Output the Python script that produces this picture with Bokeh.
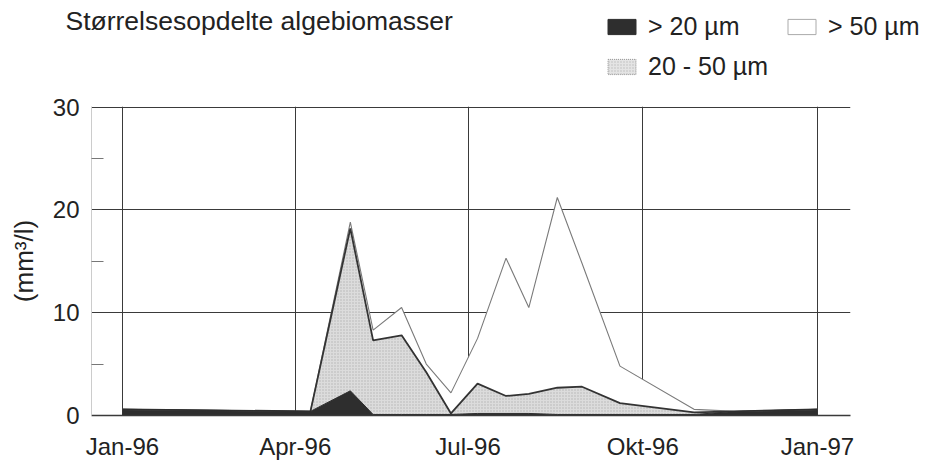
import pandas as pd
from bokeh.plotting import figure
from bokeh.models import (ColumnDataSource, FixedTicker, Range1d, Legend,
                          LegendItem, Label)
from bokeh.embed import file_html
from bokeh.resources import INLINE

# ---- data ----
dates = ["1996-01-01", "1996-04-09", "1996-04-30", "1996-05-12", "1996-05-27",
         "1996-06-09", "1996-06-22", "1996-07-06", "1996-07-21", "1996-08-02",
         "1996-08-17", "1996-08-30", "1996-09-19", "1996-10-28", "1996-11-19",
         "1997-01-01"]
gt20 = [0.6, 0.4, 2.4, 0.1, 0.1, 0.1, 0.1, 0.2, 0.2, 0.2, 0.1, 0.1, 0.1, 0.1, 0.4, 0.6]
mid2050 = [0.0, 0.0, 15.8, 7.2, 7.7, 4.1, 0.1, 2.9, 1.7, 1.9, 2.6, 2.7, 1.1, 0.2, 0.0, 0.0]
gt50 = [0.0, 0.0, 0.6, 1.0, 2.7, 0.8, 2.0, 4.4, 13.4, 8.4, 18.5, 12.0, 3.6, 0.3, 0.0, 0.0]

tick_dates = ["1996-01-01", "1996-04-01", "1996-07-01", "1996-10-01", "1997-01-01"]
tick_labels = ["Jan-96", "Apr-96", "Jul-96", "Okt-96", "Jan-97"]
y_ticks = [0, 10, 20, 30]
y_minor = [5, 15, 25]

title_text = "Størrelsesopdelte algebiomasser"
y_label = "(mm³/l)"
names = ["> 20 µm", "20 - 50 µm", "> 50 µm"]

FONT = "Liberation Sans"
TXT = "#222222"

origin = pd.Timestamp("1996-01-01")


def to_days(seq):
    return [int((pd.Timestamp(d) - origin).days) for d in seq]


x = to_days(dates)
c1 = list(gt20)
c2 = [a + b for a, b in zip(c1, mid2050)]
c3 = [a + b for a, b in zip(c2, gt50)]
src = ColumnDataSource(dict(x=x, zero=[0] * len(x), c1=c1, c2=c2, c3=c3))

W = 933
HDR_H = 88

# ---------------- header (title + legend) ----------------
hdr = figure(width=W, height=HDR_H, output_backend="svg", toolbar_location=None,
             x_range=Range1d(0, 1), y_range=Range1d(0, 1),
             x_axis_location=None, y_axis_location=None,
             min_border=0, outline_line_color=None,
             background_fill_color="white", border_fill_color="white")
hdr.grid.visible = False

nan = float("nan")
swatch = ColumnDataSource(dict(l=[nan], r=[nan], t=[nan], b=[nan]))
lg1 = hdr.quad(left="l", right="r", top="t", bottom="b", source=swatch,
               fill_color="#2e2e2e", line_color="#2e2e2e")
lg2 = hdr.quad(left="l", right="r", top="t", bottom="b", source=swatch,
               fill_color="#e4e4e4", line_color="#9a9a9a", line_dash="1 1",
               hatch_pattern="dot", hatch_color="#bbbbbb", hatch_scale=3)
lg3 = hdr.quad(left="l", right="r", top="t", bottom="b", source=swatch,
               fill_color="white", line_color="#aaaaaa", line_width=1)

legend = Legend(items=[LegendItem(label=names[0], renderers=[lg1], index=0),
                       LegendItem(label=names[1], renderers=[lg2], index=0),
                       LegendItem(label=names[2], renderers=[lg3], index=0)],
                location=(604, HDR_H - 83), orientation="vertical", ncols=2,
                glyph_width=35, glyph_height=19, label_standoff=9,
                label_width=130, label_height=34, spacing=6,
                padding=0, margin=0, border_line_color=None,
                background_fill_alpha=0,
                label_text_font=FONT, label_text_font_size="25px",
                label_text_color=TXT)
hdr.add_layout(legend, "center")

hdr.add_layout(Label(x=65, y=HDR_H - 20, x_units="screen", y_units="screen",
                     text=title_text, text_font=FONT, text_font_size="26.5px",
                     text_color=TXT, text_baseline="alphabetic"))

# ---------------- main chart ----------------
TOP = 106 - HDR_H
p = figure(width=W, height=470 - HDR_H, output_backend="svg", toolbar_location=None,
           x_range=Range1d(-16.3, 383.4), y_range=Range1d(0, 30.05),
           min_border_left=91, min_border_right=83, min_border_top=TOP,
           min_border_bottom=55, outline_line_color=None,
           background_fill_color="white", border_fill_color="white")

p.varea(x="x", y1="c2", y2="c3", source=src, fill_color="white")
p.varea(x="x", y1="c1", y2="c2", source=src, fill_color="#dcdcdc",
        hatch_pattern="dot", hatch_color="#b4b4b4", hatch_scale=3, hatch_weight=1)
p.varea(x="x", y1="zero", y2="c1", source=src, fill_color="#2e2e2e")
p.line(x="x", y="c3", source=src, line_color="#7a7a7a", line_width=1.1)
p.line(x="x", y="c2", source=src, line_color="#333333", line_width=1.8)
p.line(x="x", y="c1", source=src, line_color="#2e2e2e", line_width=1)

# x axis
xt = to_days(tick_dates)
p.xaxis.ticker = FixedTicker(ticks=xt)
p.xaxis.major_label_overrides = {d: lab for d, lab in zip(xt, tick_labels)}
p.xaxis.major_tick_in = 0
p.xaxis.major_tick_out = 0
p.xaxis.minor_tick_in = 0
p.xaxis.minor_tick_out = 0
p.xaxis.axis_line_color = "#3a3a3a"
p.xaxis.axis_line_width = 1.5
p.xaxis.major_label_standoff = 17
p.xaxis.major_label_text_font = FONT
p.xaxis.major_label_text_font_size = "24px"
p.xaxis.major_label_text_color = TXT

# y axis
p.yaxis.ticker = FixedTicker(ticks=y_ticks, minor_ticks=y_minor)
p.yaxis.major_tick_in = 0
p.yaxis.major_tick_out = 0
p.yaxis.minor_tick_in = 12
p.yaxis.minor_tick_out = 0
p.yaxis.minor_tick_line_color = "#777777"
p.yaxis.axis_line_color = "#cccccc"
p.yaxis.major_label_standoff = 12
p.yaxis.major_label_text_font = FONT
p.yaxis.major_label_text_font_size = "24px"
p.yaxis.major_label_text_color = TXT
p.yaxis.axis_label = y_label
p.yaxis.axis_label_text_font = FONT
p.yaxis.axis_label_text_font_size = "26px"
p.yaxis.axis_label_text_font_style = "normal"
p.yaxis.axis_label_text_color = TXT
p.yaxis.axis_label_standoff = 11

# grids
p.xgrid.ticker = FixedTicker(ticks=xt)
p.ygrid.ticker = FixedTicker(ticks=y_ticks[1:])
p.xgrid.grid_line_color = "#3a3a3a"
p.ygrid.grid_line_color = "#3a3a3a"
p.xgrid.grid_line_width = 1
p.ygrid.grid_line_width = 1.2

open("out.html", "w").write(file_html([hdr, p], INLINE))
